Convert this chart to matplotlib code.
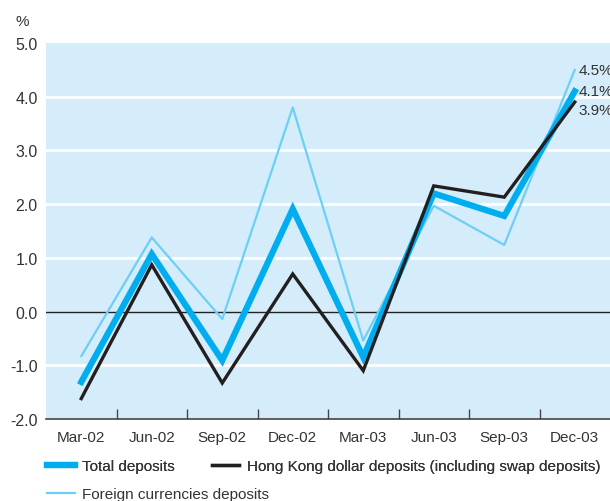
import matplotlib
matplotlib.use("Agg")
import matplotlib.pyplot as plt
from matplotlib.lines import Line2D
from matplotlib.ticker import FixedLocator

plt.rcParams['font.family'] = ['Liberation Sans', 'DejaVu Sans']

quarters = ["Mar-02", "Jun-02", "Sep-02", "Dec-02", "Mar-03", "Jun-03", "Sep-03", "Dec-03"]
total = [-1.31, 1.07, -0.91, 1.91, -0.85, 2.20, 1.78, 4.1]
hkd = [-1.62, 0.87, -1.33, 0.70, -1.10, 2.34, 2.13, 3.9]
foreign = [-0.83, 1.38, -0.14, 3.80, -0.54, 1.97, 1.24, 4.5]

c_total = "#00aeef"
c_hkd = "#231f20"
c_foreign = "#6dcff6"
txt = "#333333"
fs = 11

fig = plt.figure(figsize=(6.1, 5.02), dpi=100)
ax = fig.add_axes([46 / 610, 1 - 420 / 502, 564 / 610, 376 / 502])
ax.set_facecolor("#d5edfa")

x = [i + 0.5 for i in range(len(quarters))]

for v in [-1, 1, 2, 3, 4]:
    ax.axhline(v, color="white", lw=2, zorder=1)
ax.axhline(0, color="#222222", lw=1, zorder=2)

ax.plot(x, foreign, color=c_foreign, lw=1.6, zorder=3)
ax.plot(x, total, color=c_total, lw=4.5, zorder=4, solid_joinstyle="miter")
ax.plot(x, hkd, color=c_hkd, lw=2.4, zorder=5, solid_joinstyle="miter")

# end-of-series labels
for vals, dy in [(foreign, 0), (total, 0), (hkd, -6)]:
    ax.annotate(f"{vals[-1]}%", xy=(x[-1], vals[-1]), xytext=(2.5, dy),
                textcoords="offset points", va="center", ha="left",
                fontsize=fs, color=txt, annotation_clip=False)

ax.set_xlim(0, 8)
ax.set_ylim(-2, 5)
ax.set_yticks([-2, -1, 0, 1, 2, 3, 4, 5])
ax.set_yticklabels([f"{v:.1f}" for v in [-2, -1, 0, 1, 2, 3, 4, 5]])
ax.set_xticks(x)
ax.set_xticklabels(quarters)
ax.xaxis.set_minor_locator(FixedLocator(range(1, 8)))
ax.tick_params(axis="y", length=0, pad=6, labelsize=11.5, labelcolor=txt)
ax.tick_params(axis="x", which="major", length=0, pad=8, labelsize=fs, labelcolor=txt)
ax.tick_params(axis="x", which="minor", direction="in", length=7, width=1, color="#444444")

for s in ["top", "right", "left"]:
    ax.spines[s].set_visible(False)
ax.spines["bottom"].set_color("#444444")
ax.spines["bottom"].set_linewidth(1.2)

fig.text(15 / 610, 1 - 22 / 502, "%", fontsize=fs, color=txt, ha="left", va="center")

leg1 = fig.legend(
    [Line2D([], [], color=c_total, lw=4.5), Line2D([], [], color=c_hkd, lw=2.4)],
    ["Total deposits", "Hong Kong dollar deposits (including swap deposits)"],
    loc="center left", bbox_to_anchor=(47 / 610, 1 - 467 / 502), ncol=2,
    frameon=False, fontsize=fs, handlelength=1.8, handletextpad=0.5,
    columnspacing=2.4, borderpad=0, borderaxespad=0, labelcolor=txt)
fig.legend(
    [Line2D([], [], color=c_foreign, lw=1.6)],
    ["Foreign currencies deposits"],
    loc="center left", bbox_to_anchor=(47 / 610, 1 - 495 / 502),
    frameon=False, fontsize=fs, handlelength=1.8, handletextpad=0.5,
    borderpad=0, borderaxespad=0, labelcolor=txt)
fig.add_artist(leg1)

fig.savefig("out.png", dpi=100)
